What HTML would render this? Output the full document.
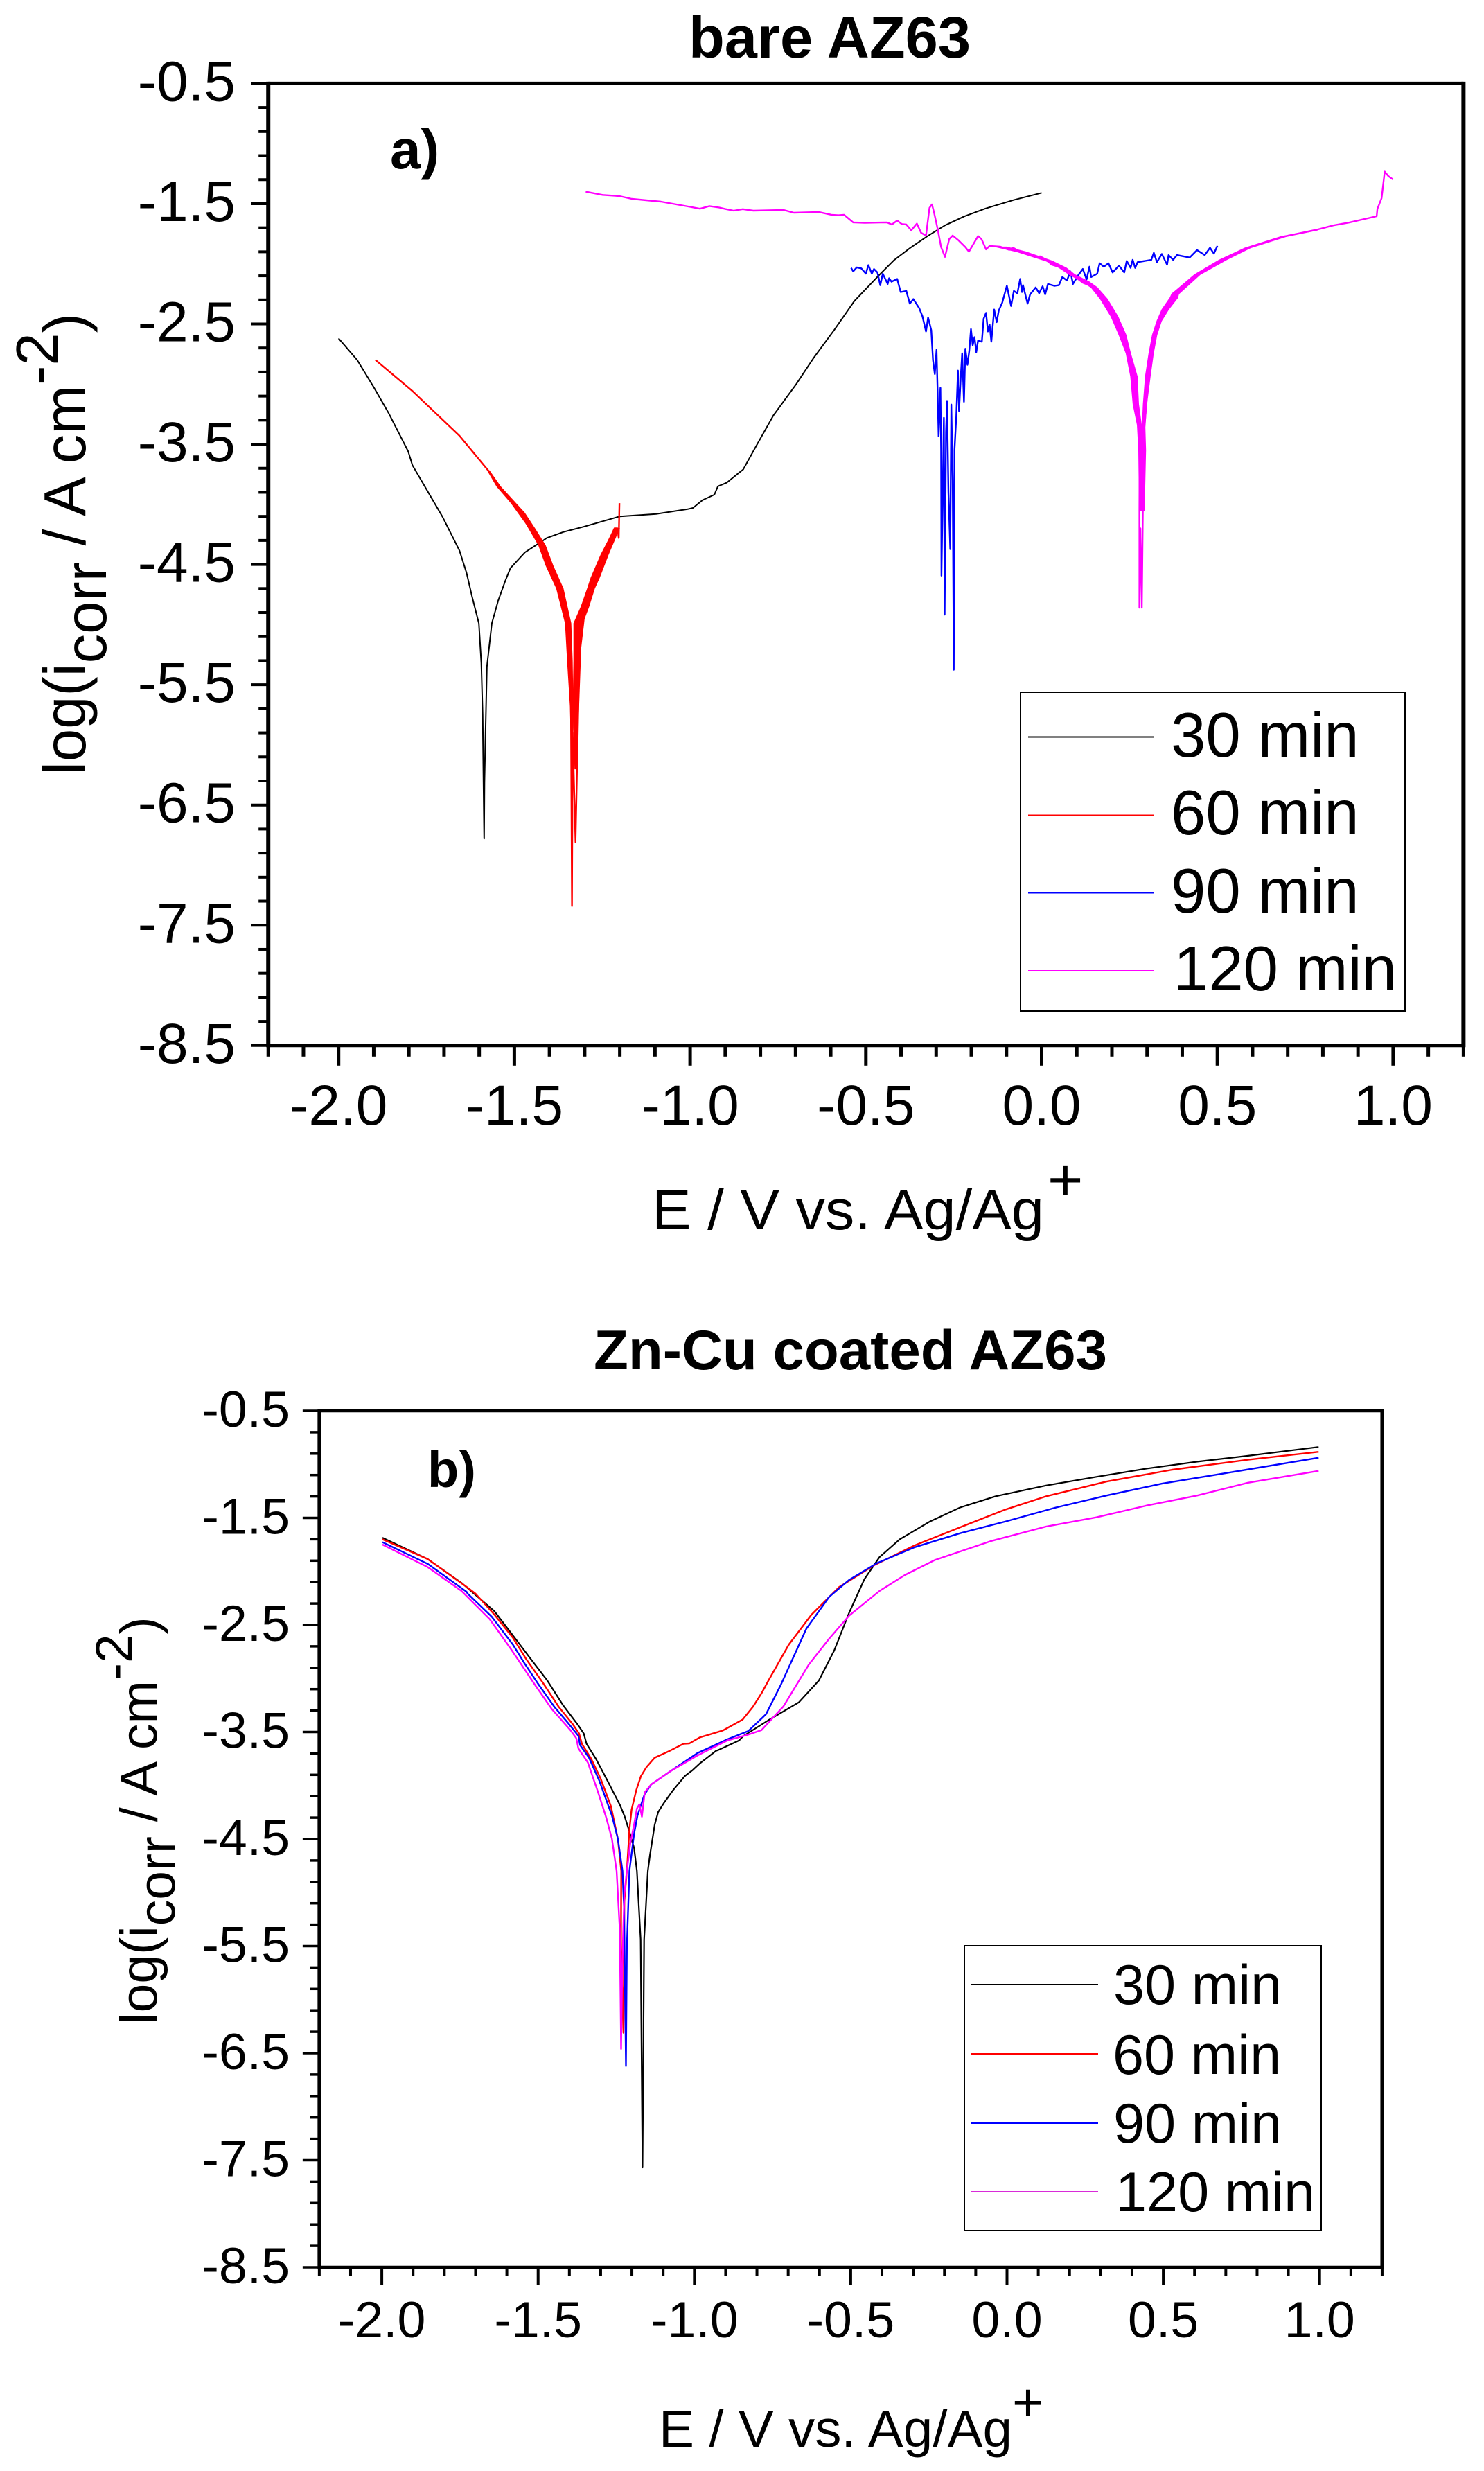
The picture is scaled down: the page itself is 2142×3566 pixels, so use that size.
<!DOCTYPE html>
<html lang="en">
<head>
<meta charset="utf-8">
<title>Polarization curves of bare and Zn-Cu coated AZ63</title>
<style>
html,body{margin:0;padding:0;background:#fff;}
svg{display:block;}
text{font-family:"Liberation Sans",Arial,sans-serif;fill:#000;}
.bold{font-weight:bold;}
</style>
</head>
<body>
<svg id="figure" xmlns="http://www.w3.org/2000/svg" width="2142" height="3566" viewBox="0 0 2142 3566">
  <rect x="0" y="0" width="2142" height="3566" fill="#fff"/>

  <g id="panel-a"></g>
  <text class="bold" x="994" y="83" font-size="84" textLength="407" lengthAdjust="spacingAndGlyphs">bare AZ63</text>
  <text class="bold" x="563" y="243" font-size="80">a)</text>
  <text transform="translate(122.8,1118) rotate(-90)" font-size="85">log(i<tspan dy="30">corr</tspan><tspan dy="-30"> / A cm</tspan><tspan dy="-40">-2</tspan><tspan dy="40">)</tspan></text>
  <text x="941" y="1774" font-size="82" textLength="566" lengthAdjust="spacingAndGlyphs">E / V vs. Ag/Ag</text>
  <text x="1512" y="1733" font-size="88">+</text>
  <g>
    <rect x="1473" y="999" width="555" height="460" fill="#fff" stroke="#000" stroke-width="2"/>
    <line x1="1484" x2="1666" y1="1063.5" y2="1063.5" stroke="#000" stroke-width="2"/>
    <line x1="1484" x2="1666" y1="1176.5" y2="1176.5" stroke="#f00" stroke-width="2"/>
    <line x1="1484" x2="1666" y1="1288.5" y2="1288.5" stroke="#00f" stroke-width="2"/>
    <line x1="1484" x2="1666" y1="1401" y2="1401" stroke="#f0f" stroke-width="2"/>
    <text x="1690" y="1092" font-size="90.5">30 min</text>
    <text x="1690" y="1204" font-size="90.5">60 min</text>
    <text x="1690" y="1317" font-size="90.5">90 min</text>
    <text x="1694" y="1429" font-size="90.5">120 min</text>
  </g>

  <g id="panel-b"></g>
  <text class="bold" x="857" y="1976" font-size="81" textLength="741" lengthAdjust="spacingAndGlyphs">Zn-Cu coated AZ63</text>
  <text class="bold" x="617" y="2146" font-size="74">b)</text>
  <text transform="translate(226.6,2921) rotate(-90)" font-size="75">log(i<tspan dy="26">corr</tspan><tspan dy="-26"> / A cm</tspan><tspan dy="-36">-2</tspan><tspan dy="36">)</tspan></text>
  <text x="951" y="3531" font-size="75" textLength="510" lengthAdjust="spacingAndGlyphs">E / V vs. Ag/Ag</text>
  <text x="1461" y="3494" font-size="78">+</text>
  <g>
    <rect x="1392" y="2808" width="515" height="411" fill="#fff" stroke="#000" stroke-width="2"/>
    <line x1="1402" x2="1585" y1="2864" y2="2864" stroke="#000" stroke-width="2"/>
    <line x1="1402" x2="1585" y1="2964" y2="2964" stroke="#f00" stroke-width="2"/>
    <line x1="1402" x2="1585" y1="3064" y2="3064" stroke="#00f" stroke-width="2"/>
    <line x1="1402" x2="1585" y1="3163" y2="3163" stroke="#d92bd9" stroke-width="2"/>
    <text x="1607" y="2892" font-size="81">30 min</text>
    <text x="1606" y="2993" font-size="81">60 min</text>
    <text x="1607" y="3092" font-size="81">90 min</text>
    <text x="1610" y="3191" font-size="81">120 min</text>
  </g>
</svg>

<script>
// Axis tick labels (shared by both panels)
const xTickLabels = ['-2.0','-1.5','-1.0','-0.5','0.0','0.5','1.0'];
const yTickLabels = ['-0.5','-1.5','-2.5','-3.5','-4.5','-5.5','-6.5','-7.5','-8.5'];

// Panel a series: [E / V, log(i)]
const a30 = [[-2,-2.62],[-1.947,-2.8],[-1.899,-3.03],[-1.857,-3.245],[-1.802,-3.56],[-1.79,-3.675],[-1.747,-3.89],[-1.705,-4.1],[-1.656,-4.385],[-1.636,-4.57],[-1.62,-4.77],[-1.601,-4.99],[-1.594,-5.32],[-1.59,-5.75],[-1.586,-6.78],[-1.585,-6.31],[-1.578,-5.35],[-1.564,-4.99],[-1.546,-4.8],[-1.525,-4.63],[-1.511,-4.53],[-1.47,-4.4],[-1.428,-4.32],[-1.408,-4.28],[-1.36,-4.23],[-1.304,-4.187],[-1.2,-4.1],[-1.097,-4.08],[-1.007,-4.04],[-0.992,-4.03],[-0.965,-3.965],[-0.931,-3.92],[-0.921,-3.85],[-0.896,-3.82],[-0.862,-3.74],[-0.849,-3.71],[-0.813,-3.52],[-0.763,-3.26],[-0.698,-3],[-0.648,-2.78],[-0.59,-2.55],[-0.533,-2.31],[-0.461,-2.09],[-0.42,-1.97],[-0.375,-1.87],[-0.325,-1.77],[-0.275,-1.68],[-0.22,-1.605],[-0.16,-1.54],[-0.08,-1.47],[0,-1.41]];
const a60 = [[-1.895,-2.8],[-1.789,-3.06],[-1.656,-3.43],[-1.574,-3.72],[-1.532,-3.89],[-1.463,-4.17],[-1.428,-4.34],[-1.394,-4.5],[-1.373,-4.7],[-1.353,-4.99],[-1.345,-5.19],[-1.339,-5.68],[-1.336,-7.34],[-1.334,-5.9],[-1.326,-6.81],[-1.322,-6.25],[-1.318,-5.68],[-1.312,-5.19],[-1.304,-4.99],[-1.298,-4.83],[-1.276,-4.6],[-1.242,-4.37],[-1.215,-4.2],[-1.207,-4.2],[-1.203,-4.28],[-1.201,-3.99]];
const a90 = [[-0.542,-2.034],[-0.536,-2.063],[-0.526,-2.03],[-0.513,-2.038],[-0.5,-2.082],[-0.493,-2.011],[-0.483,-2.082],[-0.477,-2.043],[-0.467,-2.072],[-0.459,-2.178],[-0.452,-2.082],[-0.438,-2.168],[-0.434,-2.12],[-0.427,-2.149],[-0.411,-2.126],[-0.401,-2.235],[-0.385,-2.226],[-0.375,-2.331],[-0.365,-2.293],[-0.348,-2.37],[-0.339,-2.437],[-0.329,-2.562],[-0.323,-2.447],[-0.314,-2.552],[-0.309,-2.802],[-0.304,-2.917],[-0.299,-2.715],[-0.296,-3.05],[-0.293,-3.435],[-0.288,-3.032],[-0.286,-3.551],[-0.285,-4.593],[-0.278,-3.28],[-0.276,-4.918],[-0.272,-3.4],[-0.269,-3.14],[-0.265,-3.9],[-0.26,-4.373],[-0.257,-3.17],[-0.253,-3.8],[-0.25,-5.375],[-0.248,-3.55],[-0.243,-3.282],[-0.238,-2.888],[-0.235,-3.224],[-0.23,-2.936],[-0.226,-2.744],[-0.221,-3.147],[-0.217,-2.706],[-0.211,-2.84],[-0.206,-2.725],[-0.201,-2.543],[-0.196,-2.677],[-0.191,-2.61],[-0.186,-2.735],[-0.181,-2.639],[-0.17,-2.648],[-0.165,-2.456],[-0.158,-2.408],[-0.153,-2.562],[-0.148,-2.504],[-0.143,-2.648],[-0.135,-2.38],[-0.128,-2.485],[-0.122,-2.389],[-0.112,-2.322],[-0.099,-2.182],[-0.087,-2.351],[-0.079,-2.226],[-0.069,-2.245],[-0.061,-2.126],[-0.056,-2.235],[-0.053,-2.178],[-0.04,-2.331],[-0.033,-2.255],[-0.017,-2.197],[-0.007,-2.245],[0.003,-2.187],[0.01,-2.254],[0.018,-2.168],[0.036,-2.183],[0.049,-2.178],[0.059,-2.11],[0.072,-2.139],[0.082,-2.063],[0.089,-2.168],[0.105,-2.091],[0.117,-2.043],[0.128,-2.13],[0.136,-2.024],[0.141,-2.11],[0.158,-2.082],[0.165,-1.995],[0.177,-2.024],[0.19,-1.995],[0.202,-2.072],[0.22,-2.015],[0.235,-2.072],[0.242,-1.976],[0.253,-2.034],[0.259,-1.967],[0.266,-2.034],[0.273,-1.986],[0.312,-1.967],[0.319,-1.909],[0.328,-1.986],[0.342,-1.918],[0.357,-2.008],[0.361,-1.928],[0.374,-1.967],[0.385,-1.927],[0.421,-1.948],[0.442,-1.886],[0.464,-1.927],[0.479,-1.867],[0.49,-1.915],[0.5,-1.85]];
const a120 = [[-1.297,-1.4],[-1.249,-1.427],[-1.201,-1.437],[-1.166,-1.46],[-1.083,-1.483],[-1,-1.526],[-0.972,-1.542],[-0.945,-1.52],[-0.917,-1.532],[-0.9,-1.544],[-0.876,-1.558],[-0.85,-1.545],[-0.82,-1.558],[-0.734,-1.552],[-0.705,-1.575],[-0.634,-1.569],[-0.598,-1.592],[-0.578,-1.596],[-0.562,-1.592],[-0.536,-1.655],[-0.503,-1.659],[-0.44,-1.655],[-0.426,-1.673],[-0.411,-1.64],[-0.398,-1.669],[-0.385,-1.673],[-0.371,-1.721],[-0.355,-1.665],[-0.343,-1.742],[-0.329,-1.765],[-0.319,-1.535],[-0.312,-1.506],[-0.306,-1.573],[-0.296,-1.707],[-0.286,-1.861],[-0.275,-1.942],[-0.263,-1.794],[-0.253,-1.765],[-0.237,-1.803],[-0.217,-1.861],[-0.207,-1.899],[-0.197,-1.851],[-0.181,-1.769],[-0.171,-1.794],[-0.158,-1.88],[-0.148,-1.851],[-0.118,-1.857],[-0.092,-1.884],[-0.082,-1.865],[-0.059,-1.903],[-0.02,-1.942],[-0.004,-1.938],[0.02,-1.976],[0.026,-2.005],[0.059,-2.034],[0.079,-2.072],[0.118,-2.159],[0.151,-2.197],[0.184,-2.303],[0.21,-2.456],[0.223,-2.571],[0.237,-2.687],[0.25,-2.763],[0.256,-2.917],[0.263,-3.07],[0.273,-3.263],[0.279,-3.359],[0.278,-4.05],[0.278,-4.86],[0.281,-4.2],[0.285,-4.86],[0.288,-4.05],[0.292,-3.36],[0.298,-3.167],[0.302,-2.936],[0.312,-2.744],[0.321,-2.591],[0.335,-2.475],[0.352,-2.38],[0.376,-2.283],[0.3715,-2.251],[0.443,-2.09],[0.515,-1.968],[0.586,-1.868],[0.687,-1.774],[0.787,-1.713],[0.83,-1.68],[0.874,-1.657],[0.953,-1.604],[0.955,-1.544],[0.967,-1.454],[0.976,-1.233],[0.986,-1.27],[1,-1.3]];

// Noise envelopes of panel a curves: [log(i), E low, E high]
const a60BandLeft = [[-3.72,-1.576,-1.571],[-3.85,-1.55,-1.54],[-4.07,-1.485,-1.471],[-4.2,-1.459,-1.442],[-4.34,-1.431,-1.412],[-4.51,-1.41,-1.39],[-4.7,-1.38,-1.361],[-4.99,-1.355,-1.339],[-5.3,-1.349,-1.335],[-5.68,-1.341,-1.333],[-6.2,-1.337,-1.334]];
const a60BandRight = [[-6.2,-1.328,-1.322],[-5.68,-1.333,-1.317],[-5.3,-1.331,-1.314],[-4.99,-1.331,-1.306],[-4.85,-1.31,-1.288],[-4.7,-1.292,-1.272],[-4.61,-1.282,-1.258],[-4.42,-1.254,-1.233],[-4.2,-1.215,-1.201]];
const a120BandLeft = [[-1.86,-0.13,-0.1],[-1.9,-0.07,-0.045],[-1.976,0.012,0.03],[-2.034,0.05,0.07],[-2.091,0.079,0.095],[-2.149,0.115,0.135],[-2.197,0.141,0.158],[-2.293,0.167,0.187],[-2.437,0.197,0.217],[-2.591,0.22,0.24],[-2.744,0.24,0.253],[-2.936,0.253,0.272],[-3.167,0.26,0.276],[-3.34,0.272,0.284],[-3.551,0.276,0.286],[-4.05,0.278,0.283]];
const a120BandRight = [[-4.05,0.283,0.292],[-3.551,0.279,0.296],[-3.359,0.286,0.294],[-3.167,0.289,0.299],[-2.936,0.295,0.309],[-2.744,0.305,0.318],[-2.591,0.315,0.328],[-2.475,0.328,0.341],[-2.38,0.342,0.361],[-2.283,0.365,0.387],[-2.251,0.37,0.39],[-2.09,0.435,0.451],[-1.968,0.505,0.525],[-1.868,0.578,0.594],[-1.774,0.68,0.695],[-1.72,0.775,0.785]];

// Panel b series: [E / V, log(i)]
const b30 = [[-1.998,-1.685],[-1.853,-1.885],[-1.744,-2.109],[-1.64,-2.371],[-1.581,-2.597],[-1.522,-2.824],[-1.471,-3.018],[-1.419,-3.255],[-1.374,-3.428],[-1.354,-3.514],[-1.345,-3.611],[-1.315,-3.751],[-1.278,-3.956],[-1.238,-4.183],[-1.223,-4.291],[-1.208,-4.431],[-1.193,-4.582],[-1.184,-4.798],[-1.172,-5.439],[-1.166,-7.568],[-1.161,-5.44],[-1.149,-4.798],[-1.142,-4.647],[-1.127,-4.366],[-1.116,-4.248],[-1.097,-4.161],[-1.068,-4.043],[-1.031,-3.913],[-1.005,-3.854],[-0.983,-3.794],[-0.931,-3.676],[-0.924,-3.669],[-0.857,-3.579],[-0.844,-3.539],[-0.763,-3.39],[-0.666,-3.223],[-0.602,-3.019],[-0.553,-2.74],[-0.505,-2.387],[-0.456,-2.071],[-0.408,-1.867],[-0.343,-1.7],[-0.246,-1.533],[-0.15,-1.403],[-0.037,-1.299],[0.125,-1.198],[0.286,-1.117],[0.448,-1.039],[0.609,-0.975],[0.771,-0.92],[0.997,-0.838]];
const b60 = [[-1.998,-1.7],[-1.853,-1.885],[-1.729,-2.144],[-1.7,-2.209],[-1.64,-2.403],[-1.581,-2.619],[-1.537,-2.824],[-1.485,-3.039],[-1.434,-3.266],[-1.389,-3.428],[-1.369,-3.514],[-1.36,-3.611],[-1.33,-3.751],[-1.3,-3.935],[-1.267,-4.193],[-1.245,-4.496],[-1.234,-4.798],[-1.235,-5.55],[-1.227,-6.31],[-1.224,-5.08],[-1.216,-4.798],[-1.208,-4.41],[-1.201,-4.226],[-1.186,-4.043],[-1.171,-3.913],[-1.153,-3.827],[-1.127,-3.74],[-1.079,-3.676],[-1.035,-3.611],[-1.016,-3.607],[-0.983,-3.551],[-0.909,-3.486],[-0.846,-3.385],[-0.813,-3.266],[-0.785,-3.137],[-0.763,-3.019],[-0.698,-2.684],[-0.626,-2.406],[-0.537,-2.146],[-0.424,-1.941],[-0.295,-1.756],[-0.15,-1.588],[-0.004,-1.421],[0.125,-1.299],[0.319,-1.161],[0.529,-1.05],[0.771,-0.957],[0.997,-0.883]];
const b90 = [[-1.998,-1.727],[-1.853,-1.93],[-1.729,-2.19],[-1.725,-2.209],[-1.648,-2.424],[-1.581,-2.683],[-1.544,-2.856],[-1.5,-3.05],[-1.448,-3.266],[-1.404,-3.417],[-1.371,-3.536],[-1.366,-3.622],[-1.337,-3.74],[-1.304,-3.956],[-1.264,-4.28],[-1.245,-4.496],[-1.23,-4.798],[-1.225,-5.155],[-1.219,-6.62],[-1.216,-5.51],[-1.208,-4.798],[-1.193,-4.453],[-1.182,-4.28],[-1.16,-4.086],[-1.138,-3.989],[-1.079,-3.87],[-0.99,-3.697],[-0.894,-3.568],[-0.828,-3.492],[-0.785,-3.374],[-0.771,-3.334],[-0.723,-3.056],[-0.642,-2.536],[-0.569,-2.238],[-0.505,-2.079],[-0.416,-1.923],[-0.295,-1.774],[-0.15,-1.644],[-0.004,-1.533],[0.157,-1.403],[0.319,-1.291],[0.496,-1.18],[0.69,-1.087],[0.997,-0.938]];
const b120 = [[-1.998,-1.749],[-1.853,-1.96],[-1.745,-2.183],[-1.736,-2.209],[-1.655,-2.446],[-1.589,-2.716],[-1.552,-2.877],[-1.507,-3.072],[-1.456,-3.287],[-1.397,-3.482],[-1.378,-3.557],[-1.371,-3.654],[-1.341,-3.784],[-1.308,-4.064],[-1.282,-4.302],[-1.264,-4.496],[-1.249,-4.798],[-1.239,-5.334],[-1.2345,-6.46],[-1.231,-5.69],[-1.224,-5.01],[-1.216,-4.798],[-1.205,-4.539],[-1.193,-4.366],[-1.184,-4.215],[-1.176,-4.176],[-1.168,-4.291],[-1.159,-4.064],[-1.138,-3.989],[-1.079,-3.87],[-0.99,-3.719],[-0.894,-3.579],[-0.828,-3.525],[-0.785,-3.482],[-0.715,-3.26],[-0.634,-2.87],[-0.569,-2.629],[-0.505,-2.413],[-0.408,-2.183],[-0.327,-2.034],[-0.23,-1.893],[-0.053,-1.718],[0.125,-1.581],[0.286,-1.495],[0.448,-1.384],[0.609,-1.291],[0.771,-1.172],[0.997,-1.061]];

const SVGNS = 'http://www.w3.org/2000/svg';

function addEl(parent, tag, attrs) {
  const el = document.createElementNS(SVGNS, tag);
  for (const k in attrs) el.setAttribute(k, attrs[k]);
  parent.appendChild(el);
  return el;
}

function drawAxes(g, p, x, y) {
  const left = x(-2.2), right = x(1.2), top = y(-0.5), bottom = y(-8.5);

  const frame = addEl(g, 'path', {
    d: 'M' + left + ' ' + top + 'H' + right + 'M' + left + ' ' + bottom + 'H' + right,
    stroke: '#000', 'stroke-width': p.hAxis, fill: 'none'
  });
  
  

  const sides = addEl(g, 'path', {
    d: 'M' + left + ' ' + (top - p.hAxis / 2) + 'V' + (bottom + p.hAxis / 2) + 'M' + right + ' ' + (top - p.hAxis / 2) + 'V' + (bottom + p.hAxis / 2),
    stroke: '#000', 'stroke-width': p.vAxis, fill: 'none'
  });
  
  

  for (let i = -22; i <= 12; i++) {
    const major = i % 5 === 0;
    const tick = addEl(g, 'line', {
      x1: x(i / 10), x2: x(i / 10), y1: bottom, y2: bottom + (major ? p.xMajor : p.xMinor),
      stroke: '#000', 'stroke-width': p.tickW
    });
    
    
  }
  for (let i = 0; i <= 40; i++) {
    const major = i % 5 === 0;
    const v = -0.5 - i * 0.2;
    const tick = addEl(g, 'line', {
      x1: left, x2: left - (major ? p.yMajor : p.yMinor), y1: y(v), y2: y(v),
      stroke: '#000', 'stroke-width': p.tickH
    });
    
    
  }
  xTickLabels.forEach(function (label) {
    const t = addEl(g, 'text', { x: x(Number(label)), y: p.xLabelY, 'font-size': p.tickFont, 'text-anchor': 'middle' });
    t.textContent = label;
    
    
  });
  yTickLabels.forEach(function (label) {
    const t = addEl(g, 'text', { x: p.yLabelX, y: y(Number(label)) + p.yLabelDy, 'font-size': p.tickFont, 'text-anchor': 'end' });
    t.textContent = label;
    
    
  });
}

function drawSeries(g, series, color, width, x, y, name) {
  const pts = series.map(function (d) { return x(d[0]).toFixed(1) + ',' + y(d[1]).toFixed(1); }).join(' ');
  const line = addEl(g, 'polyline', {
    points: pts, fill: 'none', stroke: color, 'stroke-width': width, 'stroke-linejoin': 'round', 'stroke-linecap': 'butt'
  });
  
  
}

function drawBand(g, band, color, x, y, name) {
  const lo = band.map(function (d) { return x(d[1]).toFixed(1) + ',' + y(d[0]).toFixed(1); });
  const hi = band.map(function (d) { return x(d[2]).toFixed(1) + ',' + y(d[0]).toFixed(1); }).reverse();
  const poly = addEl(g, 'polygon', { points: lo.concat(hi).join(' '), fill: color, stroke: color, 'stroke-width': 1 });
  
  
}

// Panel a
(function () {
  const g = document.getElementById('panel-a');
  const x = function (E) { return 1503.5 + 507.4 * E; };
  const y = function (v) { return 120.4 + (-0.5 - v) * 173.55; };
  drawAxes(g, { hAxis: 5, vAxis: 6, xMajor: 29, xMinor: 16, yMajor: 25, yMinor: 14, tickW: 5, tickH: 4, tickFont: 82, xLabelY: 1623, yLabelX: 340, yLabelDy: 25 }, x, y);
  drawSeries(g, a30, '#000', 2, x, y, 'series-30-min');
  drawBand(g, a60BandLeft, '#f00', x, y, 'series-60-min-noise-cathodic');
  drawBand(g, a60BandRight, '#f00', x, y, 'series-60-min-noise-anodic');
  drawSeries(g, a60, '#f00', 2.4, x, y, 'series-60-min');
  drawSeries(g, a90, '#00f', 2.4, x, y, 'series-90-min');
  drawBand(g, a120BandLeft, '#f0f', x, y, 'series-120-min-noise-cathodic');
  drawBand(g, a120BandRight, '#f0f', x, y, 'series-120-min-noise-anodic');
  drawSeries(g, a120, '#f0f', 2.4, x, y, 'series-120-min');
})();

// Panel b
(function () {
  const g = document.getElementById('panel-b');
  const x = function (E) { return 1453.5 + 451.2 * E; };
  const y = function (v) { return 2036 + (-0.5 - v) * 154.5; };
  drawAxes(g, { hAxis: 4.5, vAxis: 5, xMajor: 25, xMinor: 12, yMajor: 24, yMinor: 13, tickW: 4, tickH: 3.5, tickFont: 73.5, xLabelY: 3373, yLabelX: 418, yLabelDy: 23 }, x, y);
  drawSeries(g, b30, '#000', 2.2, x, y, 'series-30-min');
  drawSeries(g, b60, '#f00', 2.4, x, y, 'series-60-min');
  drawSeries(g, b90, '#00f', 2.4, x, y, 'series-90-min');
  drawSeries(g, b120, '#f0f', 2.4, x, y, 'series-120-min');
})();
</script>
</body>
</html>
